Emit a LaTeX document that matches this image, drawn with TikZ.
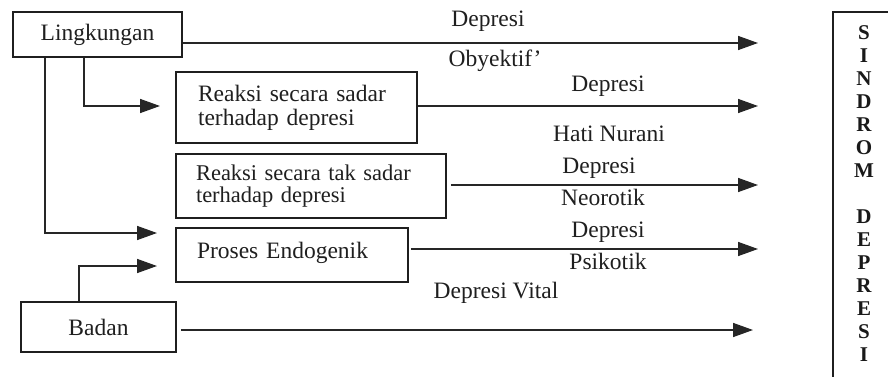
\documentclass[tikz,border=0pt]{standalone}
\usepackage{fontspec}
\setmainfont{Liberation Serif}
\usetikzlibrary{arrows.meta}
\begin{document}
\begin{tikzpicture}[x=1pt,y=-1pt,
  txt/.style={font=\fontsize{23.5}{24}\selectfont, text=black!88},
  box/.style={draw=black!88, line width=1.7pt, inner sep=0pt, txt},
  lbl/.style={anchor=base, txt, inner sep=0pt},
  con/.style={draw=black!85, line width=1.5pt},
  arr/.style={con, -{Triangle[length=20pt,width=14pt]}},
]
\useasboundingbox (0,0) rectangle (888,377);
\clip (0,0) rectangle (888,377);
\fill[white] (0,0) rectangle (888,377);

% boxes
\node[box, minimum width=169pt, minimum height=45pt] (ling) at (97.5,34.5) {Lingkungan};
\node[box, minimum width=241pt, minimum height=71pt, text width=197pt, align=left,
      font=\fontsize{23.5}{24}\selectfont] (r1) at (296.5,107.5) {Reaksi secara sadar\\terhadap depresi};
\node[box, minimum width=270pt, minimum height=64pt, text width=230pt, align=left,
      font=\fontsize{22.5}{22.5}\selectfont] (r2) at (311,186) {Reaksi secara tak sadar\\terhadap depresi};
\node[box, minimum width=232pt, minimum height=54pt, text width=190pt, align=left,
      text depth=10pt] (pe) at (292,255) {Proses Endogenik};
\node[box, minimum width=155pt, minimum height=50pt] (badan) at (98.5,327) {Badan};
\node[box, minimum width=90pt, minimum height=420pt, anchor=north west] (sdb) at (832,11) {};
\node[inner sep=0pt, anchor=north, align=center, text=black!90,
      font=\bfseries\fontsize{21}{23}\selectfont] (sd) at (864,25.5)
  {S\\I\\N\\D\\R\\O\\M\\[23pt]D\\E\\P\\R\\E\\S\\I};

% arrow tips
\coordinate (t1) at (758,43);
\coordinate (t2) at (758,106);
\coordinate (t3) at (758,185);
\coordinate (t4) at (758,249);
\coordinate (t5) at (753,330);
\coordinate (t6) at (157,233);
\coordinate (t7) at (160,106);
\coordinate (t8) at (157,266);

% right-going connectors
\draw[arr] (ling.east |- t1) -- (t1);
\draw[arr] (r1.east |- t2) -- (t2);
\draw[arr] ([xshift=4pt]r2.east |- t3) -- (t3);
\draw[arr] ([xshift=2pt]pe.east |- t4) -- (t4);
\draw[arr] ([xshift=4pt]badan.east |- t5) -- (t5);

% left connectors
\draw[arr] ([xshift=33pt]ling.south west) |- (t6);
\draw[arr] ([xshift=72pt]ling.south west) |- (t7);
\draw[arr] ([xshift=59pt]badan.north west) |- (t8);

% labels
\node[lbl] (l1) at (488,27) {Depresi};
\node[lbl] (l2) at (495,67) {Obyektif'};
\node[lbl] (l3) at (608,92) {Depresi};
\node[lbl] (l4) at (609,142) {Hati Nurani};
\node[lbl] (l5) at (599,173) {Depresi};
\node[lbl] (l6) at (603,205) {Neorotik};
\node[lbl] (l7) at (608,237) {Depresi};
\node[lbl] (l8) at (608,269) {Psikotik};
\node[lbl] (l9) at (496,298) {Depresi Vital};
\end{tikzpicture}
\end{document}
